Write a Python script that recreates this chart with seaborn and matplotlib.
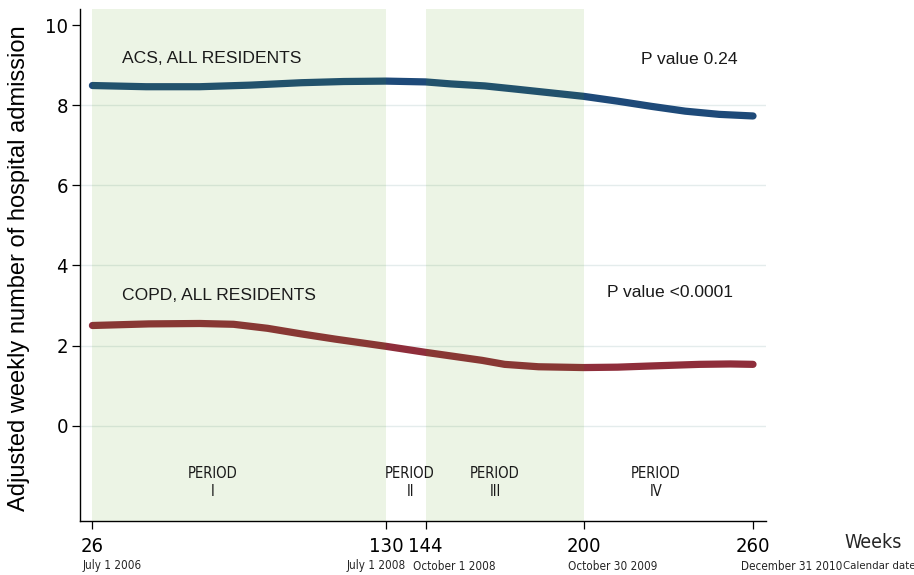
import numpy as np
import pandas as pd
import matplotlib
matplotlib.use("Agg")
import matplotlib.pyplot as plt
from matplotlib import font_manager as fm
import seaborn as sns

# ---- data ----
acs_weeks = [26, 45, 64, 82, 100, 115, 130, 144, 153, 165, 176, 188, 200, 212, 224, 236, 248, 260]
acs_values = [8.49, 8.46, 8.46, 8.50, 8.56, 8.59, 8.60, 8.58, 8.53, 8.48, 8.40, 8.31, 8.22, 8.10, 7.97, 7.85, 7.77, 7.73]
copd_weeks = [26, 46, 64, 76, 88, 100, 112, 130, 144, 153, 164, 172, 184, 200, 212, 224, 241, 252, 260]
copd_values = [2.50, 2.54, 2.55, 2.53, 2.43, 2.29, 2.16, 1.98, 1.83, 1.74, 1.63, 1.53, 1.47, 1.45, 1.46, 1.49, 1.53, 1.54, 1.53]
series_names = ["ACS, ALL RESIDENTS", "COPD, ALL RESIDENTS"]
p_values = ["P value 0.24", "P value <0.0001"]

x_ticks = [26, 130, 144, 200, 260]
date_labels = ["July 1 2006", "July 1 2008", "October 1 2008", "October 30 2009", "December 31 2010"]
y_ticks = [0, 2, 4, 6, 8, 10]
shaded_periods = [(26, 130), (144, 200)]
period_names = ["PERIOD\nI", "PERIOD\nII", "PERIOD\nIII", "PERIOD\nIV"]
period_centers = [68.7, 138.5, 168.6, 225.6]

df = pd.concat([
    pd.DataFrame({"week": acs_weeks, "value": acs_values, "series": series_names[0]}),
    pd.DataFrame({"week": copd_weeks, "value": copd_values, "series": series_names[1]}),
])

sns.set_theme(style="white")
plt.rcParams["font.family"] = ["Liberation Sans", "DejaVu Sans"]


# ---- pick a condensed font if one is installed ----
def _is_regular(f):
    w = f.weight
    return (w in (400, "normal", "regular", "book", "Regular")) and f.style == "normal"


def find_condensed():
    prefs = ["liberation sans narrow", "dejavu sans condensed", "roboto condensed",
             "open sans condensed", "noto sans condensed", "arial narrow"]
    found = {}
    for f in fm.fontManager.ttflist:
        nm = f.name.lower()
        fn = f.fname.lower().replace("-", " ").replace("_", " ")
        if not _is_regular(f):
            continue
        if "bold" in fn or "italic" in fn or "oblique" in fn or "light" in fn:
            continue
        key = None
        for p in prefs:
            if p in nm or p.replace(" ", "") in fn.replace(" ", ""):
                key = p
                break
        if key is None and (("narrow" in fn or "condensed" in fn) and "semi" not in fn
                            and "extra" not in fn and "ultra" not in fn):
            key = "zz"
        if key is not None and key not in found:
            found[key] = f.fname
    for p in prefs + ["zz"]:
        if p in found:
            return found[p], True
    return None, False


COND_PATH, HAVE_COND = find_condensed()


def cfont(size):
    if HAVE_COND:
        return fm.FontProperties(fname=COND_PATH, size=size)
    return fm.FontProperties(family=["Liberation Sans", "DejaVu Sans"], size=size * 0.85)


W, H = 914, 575
fig = plt.figure(figsize=(W / 100, H / 100), dpi=100)
ax = fig.add_axes([80 / W, 1 - 521 / H, (766 - 80) / W, (521 - 9) / H])

# gridlines
for yv in y_ticks[:-1]:
    ax.axhline(yv, color="#E4ECEC", lw=1.0, zorder=1)

sns.lineplot(data=df, x="week", y="value", hue="series",
             palette={series_names[0]: "#1E4A79", series_names[1]: "#8F2E3B"},
             lw=5.2, solid_capstyle="round", legend=False, ax=ax, zorder=2,
             estimator=None)

for a, b in shaded_periods:
    ax.axvspan(a, b, color=(0.30, 0.60, 0.0), alpha=0.10, lw=0, zorder=3)

ax.set_xlim(21.6, 264.6)
ax.set_ylim(-2.38, 10.4)
ax.set_xticks(x_ticks)
ax.set_xticklabels([str(t) for t in x_ticks])
ax.set_yticks(y_ticks)
ax.set_yticklabels([str(t) for t in y_ticks])
for lab in ax.get_xticklabels() + ax.get_yticklabels():
    lab.set_fontproperties(cfont(14.5))
    lab.set_color("black")
ax.tick_params(axis="both", direction="out", length=5.8, width=0.9, color="black",
               bottom=True, left=True)
ax.tick_params(axis="x", pad=5.5)
ax.tick_params(axis="y", pad=3)
ax.set_xlabel("")
ax.set_ylabel("")
for s in ["top", "right"]:
    ax.spines[s].set_visible(False)
for s in ["left", "bottom"]:
    ax.spines[s].set_color("black")
    ax.spines[s].set_linewidth(1.0)
ax.grid(False)

# series labels and p values
ax.text(36.4, 9.17, series_names[0], fontsize=12.6, color="#1a1a1a", va="center", ha="left", zorder=5)
ax.text(36.4, 3.25, series_names[1], fontsize=12.6, color="#1a1a1a", va="center", ha="left", zorder=5)
ax.text(220.3, 9.14, p_values[0], fontsize=12.6, color="#1a1a1a", va="center", ha="left", zorder=5)
ax.text(208.3, 3.33, p_values[1], fontsize=12.6, color="#1a1a1a", va="center", ha="left", zorder=5)

for name, xc in zip(period_names, period_centers):
    ax.text(xc, -1.42, name, fontproperties=cfont(10.6), color="#1a1a1a",
            ha="center", va="center", linespacing=1.3, zorder=5)

# y label
fig.text(19 / W, 1 - 268 / H, "Adjusted weekly number of hospital admission",
         rotation=90, fontsize=17, ha="center", va="center", color="black")

# calendar dates under ticks
date_left_px = [83, 347, 413, 568, 741]
for lab, xp in zip(date_labels, date_left_px):
    fig.text(xp / W, 1 - 566 / H, lab, fontproperties=cfont(8.4), ha="left", va="center")
fig.text(843 / W, 1 - 566 / H, "Calendar date", fontproperties=cfont(8.2), ha="left", va="center")
fig.text(844 / W, 1 - 543 / H, "Weeks", fontproperties=cfont(14), ha="left", va="center")

fig.savefig("out.png", dpi=100)
